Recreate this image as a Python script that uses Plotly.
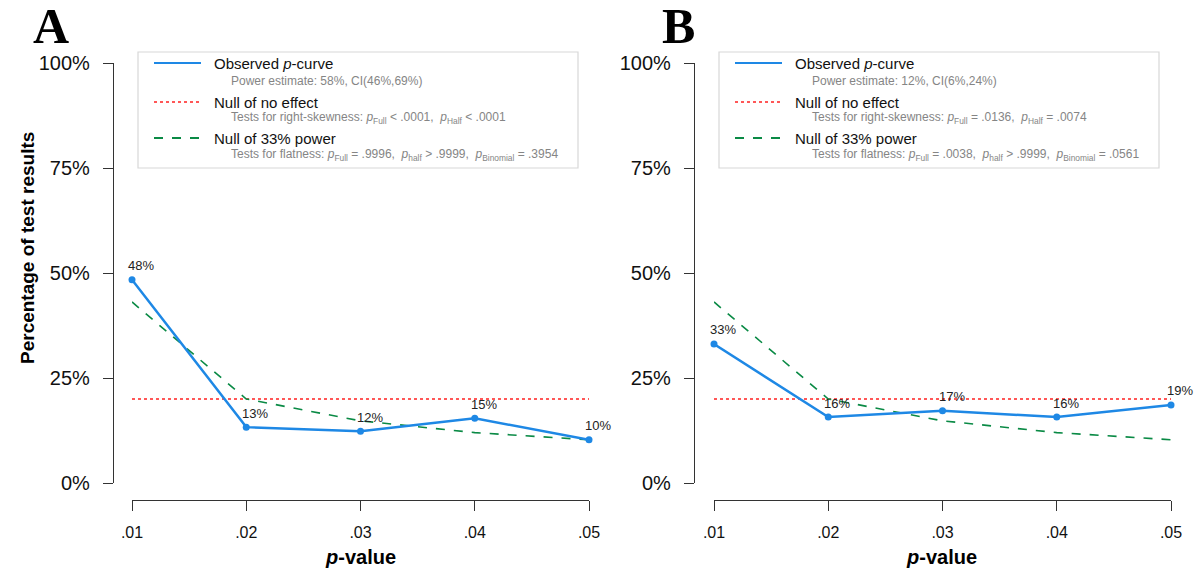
import plotly.graph_objects as go

# the page's default 8px body margin is removed in post_script, so the figure fills the window
OFF = 0
W, H = 1197, 576

# ---------------- data ----------------
p_values = [0.01, 0.02, 0.03, 0.04, 0.05]
x_tick_labels = [".01", ".02", ".03", ".04", ".05"]
y_tick_values = [0, 25, 50, 75, 100]
y_tick_labels = ["0%", "25%", "50%", "75%", "100%"]

observed_A = [48.4, 13.3, 12.3, 15.4, 10.3]
observed_B = [33.1, 15.7, 17.2, 15.7, 18.6]
null_no_effect = [20, 20, 20, 20, 20]
null_33_power = [43.1, 20.0, 14.8, 12.0, 10.3]

legend_sub_A = [
    "Power estimate: 58%, CI(46%,69%)",
    "Tests for right-skewness: <i>p</i><sub>Full</sub> &lt; .0001,&nbsp;&nbsp;<i>p</i><sub>Half</sub> &lt; .0001",
    "Tests for flatness: <i>p</i><sub>Full</sub> = .9996,&nbsp;&nbsp;<i>p</i><sub>half</sub> &gt; .9999,&nbsp;&nbsp;<i>p</i><sub>Binomial</sub> = .3954",
]
legend_sub_B = [
    "Power estimate: 12%, CI(6%,24%)",
    "Tests for right-skewness: <i>p</i><sub>Full</sub> = .0136,&nbsp;&nbsp;<i>p</i><sub>Half</sub> = .0074",
    "Tests for flatness: <i>p</i><sub>Full</sub> = .0038,&nbsp;&nbsp;<i>p</i><sub>half</sub> &gt; .9999,&nbsp;&nbsp;<i>p</i><sub>Binomial</sub> = .0561",
]
legend_titles = ["Observed <i>p</i>-curve", "Null of no effect", "Null of 33% power"]

BLUE = "#1E88E5"
RED = "#FF2020"
GREEN = "#0A8A45"
FONT = "Liberation Sans, Arial, sans-serif"


def px(x):
    return (x - OFF) / W


def py(y):
    return 1 - (y - OFF) / H


fig = go.Figure()

panels = [
    dict(xa="x", ya="y", obs=observed_A, dx=0, sub=legend_sub_A, letter="A", lx=51),
    dict(xa="x2", ya="y2", obs=observed_B, dx=581, sub=legend_sub_B, letter="B", lx=678),
]

annotations = []
shapes = []

for pan in panels:
    xa, ya = pan["xa"], pan["ya"]
    fig.add_trace(go.Scatter(x=p_values, y=null_no_effect, xaxis=xa, yaxis=ya, mode="lines",
                             line=dict(color=RED, width=1.5, dash="dot"), showlegend=False,
                             hoverinfo="skip"))
    fig.add_trace(go.Scatter(x=p_values, y=null_33_power, xaxis=xa, yaxis=ya, mode="lines",
                             line=dict(color=GREEN, width=1.6, dash="dash"), showlegend=False,
                             hoverinfo="skip"))
    fig.add_trace(go.Scatter(x=p_values, y=pan["obs"], xaxis=xa, yaxis=ya, mode="lines+markers",
                             line=dict(color=BLUE, width=2.5), marker=dict(color=BLUE, size=7),
                             cliponaxis=False, showlegend=False))
    for xv, yv in zip(p_values, pan["obs"]):
        annotations.append(dict(x=xv, y=yv, xref=xa, yref=ya, text=f"{round(yv)}%",
                                showarrow=False, xshift=9, yshift=14,
                                font=dict(family=FONT, size=13, color="#222")))

    dx = pan["dx"]
    # legend box
    shapes.append(dict(type="rect", xref="paper", yref="paper",
                       x0=px(138 + dx), x1=px(578 + dx), y0=py(52), y1=py(168),
                       line=dict(color="#d8d8d8", width=1.2), fillcolor="rgba(0,0,0,0)"))
    for (yy, col, dash, wd) in [(63, BLUE, "solid", 2), (102, RED, "dot", 1.6), (138, GREEN, "dash", 1.8)]:
        shapes.append(dict(type="line", xref="paper", yref="paper",
                           x0=px(154 + dx), x1=px(201 + dx), y0=py(yy), y1=py(yy),
                           line=dict(color=col, width=wd, dash=dash)))
    for ttl, yy in zip(legend_titles, [63, 102, 138]):
        annotations.append(dict(x=px(212 + dx), y=py(yy), xref="paper", yref="paper", text=ttl,
                                showarrow=False, xanchor="left", yanchor="middle",
                                font=dict(family=FONT, size=15, color="#111")))
    for st, yy in zip(pan["sub"], [81, 118, 155]):
        annotations.append(dict(x=px(229 + dx), y=py(yy), xref="paper", yref="paper", text=st,
                                showarrow=False, xanchor="left", yanchor="middle",
                                font=dict(family=FONT, size=12, color="#858585")))
    # panel letters
    annotations.append(dict(x=px(pan["lx"]), y=py(26), xref="paper", yref="paper",
                            text=f"<b>{pan['letter']}</b>", showarrow=False,
                            xanchor="center", yanchor="middle",
                            font=dict(family="Liberation Serif, Times New Roman, serif", size=50, color="#000")))
    # x-axis title
    annotations.append(dict(x=px(360 + dx), y=py(557), xref="paper", yref="paper",
                            text="<b><i>p</i>-value</b>", showarrow=False,
                            xanchor="center", yanchor="middle",
                            font=dict(family=FONT, size=20, color="#000")))

# y-axis title (panel A only)
annotations.append(dict(x=px(27), y=py(248), xref="paper", yref="paper",
                        text="<b>Percentage of test results</b>", showarrow=False, textangle=-90,
                        xanchor="center", yanchor="middle",
                        font=dict(family=FONT, size=19, color="#000")))


def xaxis_cfg(x0, x1):
    return dict(domain=[px(x0), px(x1)], range=[0.01, 0.05], anchor="free", position=py(500),
                showline=True, linecolor="#333", linewidth=1.3, ticks="outside", ticklen=10,
                tickwidth=1.3, tickcolor="#333", tickvals=p_values, ticktext=x_tick_labels,
                tickfont=dict(family=FONT, size=16, color="#111"), showgrid=False, zeroline=False,
                ticklabelstandoff=8, fixedrange=True)


def yaxis_cfg(xpos):
    return dict(domain=[py(483), py(63)], range=[0, 100], anchor="free", position=px(xpos),
                showline=True, linecolor="#333", linewidth=1.3, ticks="outside", ticklen=10,
                tickwidth=1.3, tickcolor="#333", tickvals=y_tick_values, ticktext=y_tick_labels,
                tickfont=dict(family=FONT, size=20, color="#111"), showgrid=False, zeroline=False,
                ticklabelstandoff=9, fixedrange=True)


fig.update_layout(
    width=W, height=H,
    margin=dict(l=0, r=0, t=0, b=0, autoexpand=False),
    paper_bgcolor="white", plot_bgcolor="white",
    xaxis=xaxis_cfg(132, 589),
    yaxis=yaxis_cfg(113),
    xaxis2=xaxis_cfg(714, 1171),
    yaxis2=yaxis_cfg(694),
    annotations=annotations,
    shapes=shapes,
    showlegend=False,
)

fig.write_html("out.html",
               config={"displayModeBar": False},
               post_script="document.body.style.margin='0';document.body.style.overflow='hidden';")
